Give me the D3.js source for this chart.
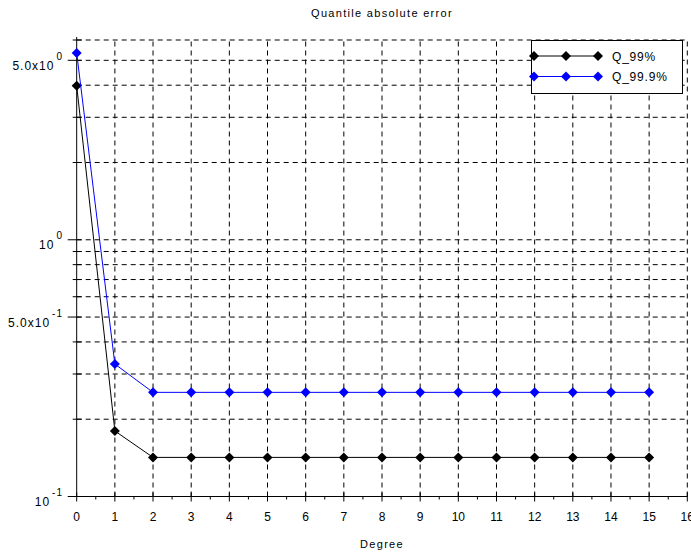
<!DOCTYPE html>
<meta charset="UTF-8">
<style>
body { margin: 0; background: #fff; }
text { font-family: "Liberation Sans", Arial, sans-serif; font-size: 11px; fill: #000; }
.grid line { stroke: #000; stroke-width: 1; stroke-dasharray: 5,4; }
.axis line { stroke: #000; stroke-width: 1; }
</style>
<body>
<script src="https://d3js.org/d3.v7.min.js"></script>
<script>
// data
var degrees = [0,1,2,3,4,5,6,7,8,9,10,11,12,13,14,15];
var q99  = [3.98,0.180,0.142,0.142,0.142,0.142,0.142,0.142,0.142,0.142,0.142,0.142,0.142,0.142,0.142,0.142];
var q999 = [5.34,0.328,0.2545,0.2545,0.2545,0.2545,0.2545,0.2545,0.2545,0.2545,0.2545,0.2545,0.2545,0.2545,0.2545,0.2545];
var seriesNames = ["Q_99%", "Q_99.9%"];
var seriesColors = ["#000000", "#0000ff"];
var xTicks = d3.range(0, 17);
var xMinor = d3.range(0.5, 16, 1);
var yTicks = [0.1,0.2,0.3,0.4,0.5,0.6,0.7,0.8,0.9,1,2,3,4,5,6];
var yLabels = [[0.1,"10","-1"],[0.5,"5.0x10","-1"],[1,"10","0"],[5,"5.0x10","0"]];

var W = 691, H = 554;
var svg = d3.select("body").append("svg")
    .attr("width", W).attr("height", H);

var x = d3.scaleLinear().domain([0, 16]).range([76.7, 687.3]);
var y = d3.scaleLog().domain([0.1, 6]).range([496.5, 40]);

// grid
var grid = svg.append("g").attr("class", "grid");
grid.selectAll("line.v").data(xTicks.slice(1)).enter().append("line")
    .attr("x1", function(d){ return x(d); }).attr("x2", function(d){ return x(d); })
    .attr("y1", y(0.1)).attr("y2", y(6));
grid.selectAll("line.h").data(yTicks.slice(1)).enter().append("line")
    .attr("x1", x(0)).attr("x2", x(16))
    .attr("y1", function(d){ return y(d); }).attr("y2", function(d){ return y(d); });

// axes
var ax = svg.append("g").attr("class", "axis");
ax.append("line").attr("x1", x(0)).attr("x2", x(16)).attr("y1", y(0.1)).attr("y2", y(0.1));
ax.append("line").attr("x1", x(0)).attr("x2", x(0)).attr("y1", y(0.1)).attr("y2", y(6) - 3);

ax.selectAll("line.xt").data(xTicks).enter().append("line")
    .attr("x1", function(d){ return x(d); }).attr("x2", function(d){ return x(d); })
    .attr("y1", y(0.1) - 4).attr("y2", y(0.1) + 5);
ax.selectAll("line.xm").data(xMinor).enter().append("line")
    .attr("x1", function(d){ return x(d); }).attr("x2", function(d){ return x(d); })
    .attr("y1", y(0.1)).attr("y2", y(0.1) + 3);
ax.selectAll("text.xl").data(xTicks).enter().append("text")
    .attr("x", function(d){ return x(d); }).attr("y", 521)
    .attr("text-anchor", "middle")
    .style("font-size", "12px")
    .text(function(d){ return d; });

var major = yLabels.map(function(d){ return d[0]; });
ax.selectAll("line.yt").data(yTicks).enter().append("line")
    .attr("x1", function(d){ return major.indexOf(d) >= 0 ? x(0) - 9 : x(0) - 4; })
    .attr("x2", function(d){ return x(0) + 5; })
    .attr("y1", function(d){ return y(d); }).attr("y2", function(d){ return y(d); });

var yl = ax.selectAll("text.yl").data(yLabels).enter().append("text")
    .attr("text-anchor", "end")
    .attr("x", 63)
    .attr("y", function(d){ return y(d[0]) + 9.5; })
    .style("font-size", "12px")
    .style("letter-spacing", "1px");
yl.append("tspan").text(function(d){ return d[1]; });
yl.append("tspan").attr("dy", -10).attr("dx", 2).style("font-size", "10px")
    .text(function(d){ return d[2]; });

// series
var series = [q99, q999];
var line = d3.line()
    .x(function(d, i){ return x(degrees[i]); })
    .y(function(d){ return y(d); });

series.forEach(function(s, k) {
  svg.append("path").datum(s)
      .attr("d", line)
      .attr("fill", "none")
      .attr("stroke", seriesColors[k])
      .attr("stroke-width", 1);
  svg.selectAll("path.m" + k).data(s).enter().append("path")
      .attr("transform", function(d, i){ return "translate(" + x(degrees[i]) + "," + y(d) + ")"; })
      .attr("d", "M0,-5L5,0L0,5L-5,0Z")
      .attr("fill", seriesColors[k]);
});

// legend
var lg = svg.append("g");
lg.append("rect").attr("x", 531.5).attr("y", 40.5).attr("width", 151).attr("height", 53)
    .attr("fill", "#fff").attr("stroke", "#000").attr("stroke-width", 1);
seriesNames.forEach(function(name, k) {
  var ly = 56 + k * 20.5;
  lg.append("line").attr("x1", 534).attr("x2", 598).attr("y1", ly).attr("y2", ly)
      .attr("stroke", seriesColors[k]).attr("stroke-width", 1);
  [534, 566, 598].forEach(function(px) {
    lg.append("path").attr("transform", "translate(" + px + "," + ly + ")")
        .attr("d", "M0,-5L5,0L0,5L-5,0Z").attr("fill", seriesColors[k]);
  });
  lg.append("text").attr("x", 612).attr("y", ly + 4.5)
      .style("font-size", "12px").style("letter-spacing", "0.8px").text(name);
});

// titles
svg.append("text").attr("x", 382).attr("y", 17).attr("text-anchor", "middle")
    .style("font-size", "11px").style("letter-spacing", "1.3px").text("Quantile absolute error");
svg.append("text").attr("x", 382).attr("y", 548).attr("text-anchor", "middle")
    .style("font-size", "11px").style("letter-spacing", "1.3px").text("Degree");
</script>
</body>
